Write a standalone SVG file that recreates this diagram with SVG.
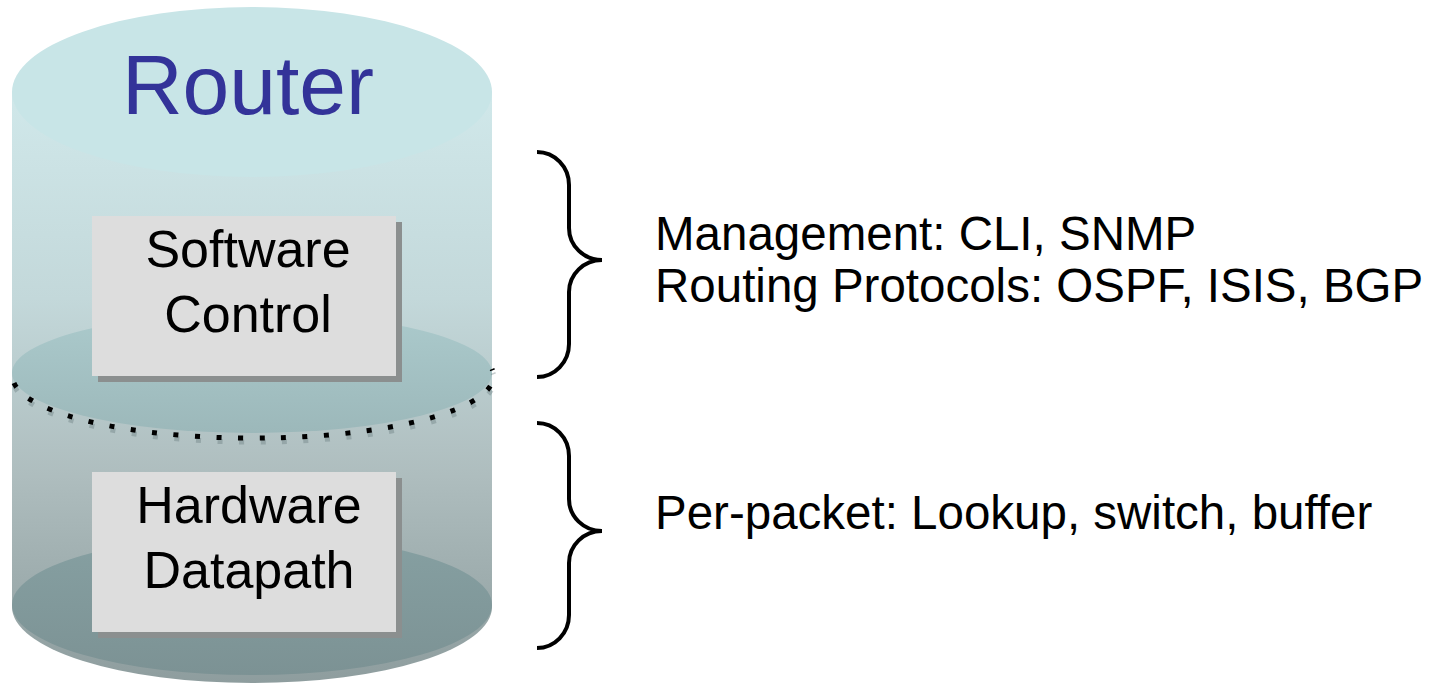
<svg xmlns="http://www.w3.org/2000/svg" width="1439" height="686" viewBox="0 0 1439 686">
  <style>
    .label { font-family: "Liberation Sans", Arial, sans-serif; fill: #000; }
    .box { fill: #dddddd; }
    .shadow { fill: #8b8f8f; }
    .brace { fill: none; stroke: #000; stroke-width: 4; stroke-linecap: butt; }
    .dots { fill: none; stroke-width: 5; stroke-dasharray: 5 16.5; }
  </style>
  <defs>
    <linearGradient id="bodyGrad" x1="0" y1="92" x2="0" y2="683" gradientUnits="userSpaceOnUse">
      <stop offset="0" stop-color="#d0e8ea"/>
      <stop offset="0.35" stop-color="#c3d8da"/>
      <stop offset="0.65" stop-color="#aebdbe"/>
      <stop offset="1" stop-color="#8e9d9e"/>
    </linearGradient>
    <linearGradient id="midGrad" x1="0" y1="313" x2="0" y2="433" gradientUnits="userSpaceOnUse">
      <stop offset="0" stop-color="#abcacc"/>
      <stop offset="1" stop-color="#9cb8ba"/>
    </linearGradient>
    <linearGradient id="lowGrad" x1="0" y1="535" x2="0" y2="675" gradientUnits="userSpaceOnUse">
      <stop offset="0" stop-color="#86a0a2"/>
      <stop offset="1" stop-color="#7c9294"/>
    </linearGradient>
    <path id="braceShape" d="M537,152 A32,33 0 0 1 569,185 V228 A33,32 0 0 0 602,260 A33,32 0 0 0 569,292 V344 A32,33 0 0 1 537,377"/>
    <path id="dividerCurve" d="M14,383 A240,62 0 0 0 492,369"/>
  </defs>

  <!-- cylinder -->
  <g id="router">
    <path d="M12,92 L12,607 A240,76 0 0 0 492,607 L492,92 Z" fill="url(#bodyGrad)"/>
    <ellipse cx="252" cy="373" rx="240" ry="60" fill="url(#midGrad)"/>
    <ellipse cx="252" cy="605" rx="240" ry="70" fill="url(#lowGrad)"/>
    <ellipse cx="252" cy="92" rx="240" ry="85" fill="#c8e5e7"/>
    <text x="248" y="114" font-size="84" text-anchor="middle" font-family="Liberation Sans, Arial, sans-serif" fill="#333399">Router</text>
  </g>

  <!-- dotted boundary between control and data planes -->
  <g id="divider">
    <use href="#dividerCurve" class="dots" stroke="#5f7476" stroke-opacity="0.35" transform="translate(1,4)"/>
    <use href="#dividerCurve" class="dots" stroke="#000"/>
  </g>

  <g id="software-control">
    <rect class="shadow" x="98" y="222" width="304" height="160"/>
    <rect class="box" x="92" y="216" width="304" height="160"/>
    <text class="label" x="248" y="267" font-size="52" text-anchor="middle">Software</text>
    <text class="label" x="248" y="332" font-size="52" text-anchor="middle">Control</text>
  </g>

  <g id="hardware-datapath">
    <rect class="shadow" x="98" y="478" width="304" height="160"/>
    <rect class="box" x="92" y="472" width="304" height="160"/>
    <text class="label" x="249" y="523" font-size="52" text-anchor="middle">Hardware</text>
    <text class="label" x="249" y="588" font-size="52" text-anchor="middle">Datapath</text>
  </g>

  <g id="braces">
    <use href="#braceShape" class="brace"/>
    <use href="#braceShape" class="brace" transform="translate(0,271)"/>
  </g>

  <g id="control-notes">
    <text class="label" x="655" y="250" font-size="47.5">Management: CLI, SNMP</text>
    <text class="label" x="655" y="302" font-size="47.5">Routing Protocols: OSPF, ISIS, BGP</text>
  </g>

  <g id="data-notes">
    <text class="label" x="655" y="529" font-size="47.5">Per-packet: Lookup, switch, buffer</text>
  </g>
</svg>
